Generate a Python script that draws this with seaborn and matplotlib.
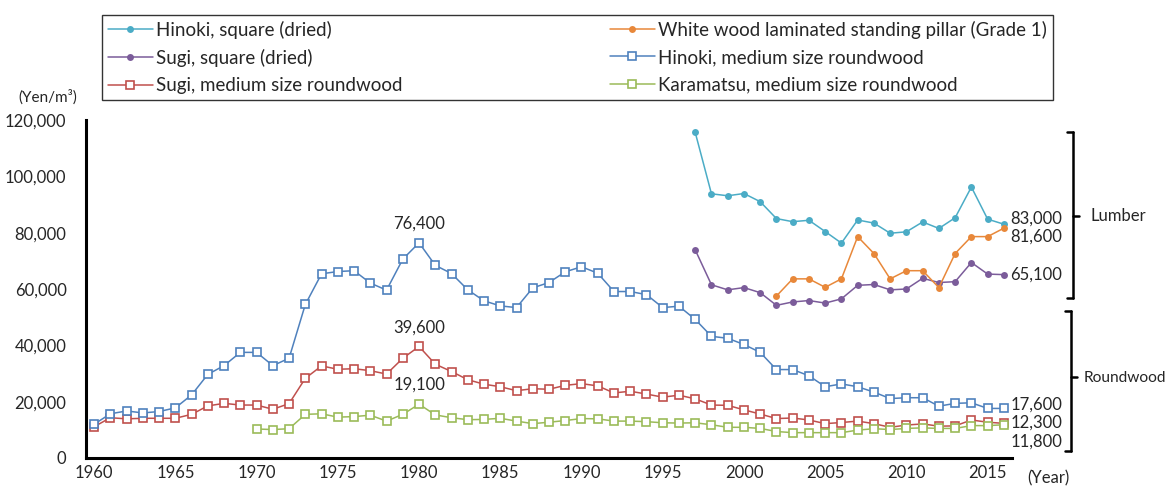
import matplotlib
matplotlib.use("Agg")
import matplotlib.pyplot as plt
from matplotlib.lines import Line2D
from matplotlib.ticker import FuncFormatter, MultipleLocator, FixedLocator
import numpy as np
import seaborn as sns

# ---------------------------------------------------------------------
# Data (yen per cubic metre)
# ---------------------------------------------------------------------
years_all = list(range(1960, 2017))
years_kara = list(range(1970, 2017))
years_sq = list(range(1997, 2017))
years_pillar = list(range(2002, 2017))

hinoki_round = [12000, 15700, 16700, 16000, 16500, 17800, 22400, 29700, 32800, 37500,
                37500, 32800, 35400, 54500, 65400, 66200, 66500, 62100, 59600, 70600,
                76400, 68400, 65500, 59700, 55800, 54000, 53400, 60400, 62300, 66100,
                67900, 65600, 59100, 59100, 58000, 53400, 53900, 49200, 43200, 42500,
                40300, 37500, 31400, 31400, 29200, 25300, 26300, 25300, 23400, 21100,
                21400, 21400, 18400, 19400, 19600, 17600, 17600]
sugi_round = [11100, 14300, 13900, 14100, 14100, 14100, 15500, 18500, 19400, 18800,
              18800, 17300, 19300, 28300, 32700, 31500, 31700, 31000, 29800, 35400,
              39600, 33300, 30700, 27800, 26200, 25300, 23900, 24600, 24400, 25800,
              26400, 25600, 23100, 23700, 22700, 21600, 22300, 21000, 18800, 18700,
              17100, 15600, 14000, 14200, 13500, 12200, 12600, 13100, 12200, 10900,
              11700, 12100, 11300, 11400, 13500, 12700, 12300]
karamatsu_round = [10300, 10100, 10400, 15500, 15700, 14500, 14700, 15200, 13100, 15500,
                   19100, 15300, 14300, 13600, 13700, 14100, 13100, 12200, 12700, 13300,
                   14000, 13900, 13100, 13100, 12900, 12500, 12400, 12500, 11800, 10900,
                   10900, 10500, 9400, 9000, 9000, 9000, 9000, 9900, 10400, 10100,
                   10500, 10700, 10500, 10500, 11500, 11500, 11800]
hinoki_square = [115600, 93800, 93100, 93900, 91000, 85000, 83900, 84400, 80400, 76300,
                 84500, 83400, 79800, 80300, 83800, 81500, 85300, 96200, 84800, 83000]
sugi_square = [73900, 61500, 59700, 60500, 58700, 54200, 55400, 55900, 55000, 56500,
               61300, 61600, 59700, 60000, 63800, 62300, 62600, 69400, 65300, 65100]
pillar = [57500, 63600, 63600, 60600, 63600, 78600, 72600, 63600, 66500, 66500,
          60500, 72600, 78600, 78600, 81600]

peak_labels = ["76,400", "39,600", "19,100"]
end_labels = ["83,000", "81,600", "65,100", "17,600", "12,300", "11,800"]

# ---------------------------------------------------------------------
# Figure
# ---------------------------------------------------------------------
W, H = 1169, 487
FS = 12
sns.set_style("white")
plt.rcParams['font.family'] = ['Lato', 'DejaVu Sans']

fig = plt.figure(figsize=(W / 100, H / 100), dpi=100)
ax = fig.add_axes([86 / W, 1 - 458 / H, (1012 - 86) / W, (458 - 120) / H])


def px(x, y):
    """pixel position in the reference -> figure fraction"""
    return x / W, 1 - y / H


c_teal = '#4BACC6'
c_orange = '#E8883A'
c_purple = '#7B5C9A'
c_blue = '#4F81BD'
c_red = '#C0504D'
c_green = '#9BBB59'

dot = dict(marker='o', markersize=5, markeredgewidth=0, linewidth=1.1)
box = dict(marker='s', markersize=5.5, markerfacecolor='white', markeredgewidth=1.2, linewidth=1.1)

sns.lineplot(x=years_sq, y=hinoki_square, ax=ax, color=c_teal, label='Hinoki, square (dried)',
             markeredgecolor=c_teal, **dot)
sns.lineplot(x=years_sq, y=sugi_square, ax=ax, color=c_purple, label='Sugi, square (dried)',
             markeredgecolor=c_purple, **dot)
sns.lineplot(x=years_all, y=sugi_round, ax=ax, color=c_red, label='Sugi, medium size roundwood',
             markeredgecolor=c_red, **box)
sns.lineplot(x=years_pillar, y=pillar, ax=ax, color=c_orange,
             label='White wood laminated standing pillar (Grade 1)', markeredgecolor=c_orange, **dot)
sns.lineplot(x=years_all, y=hinoki_round, ax=ax, color=c_blue, label='Hinoki, medium size roundwood',
             markeredgecolor=c_blue, **box)
sns.lineplot(x=years_kara, y=karamatsu_round, ax=ax, color=c_green,
             label='Karamatsu, medium size roundwood', markeredgecolor=c_green, **box)

ax.set_xlim(1959.5, 2016.5)
ax.set_ylim(0, 120000)
ax.xaxis.set_major_locator(MultipleLocator(5))
ax.xaxis.set_minor_locator(FixedLocator(np.arange(1960.5, 2016, 1)))
ax.yaxis.set_major_locator(MultipleLocator(20000))
ax.yaxis.set_major_formatter(FuncFormatter(lambda v, p: f"{int(v):,}"))
ax.tick_params(axis='x', which='major', length=0, pad=5, labelsize=FS)
ax.tick_params(axis='x', which='minor', direction='in', length=4, width=1.3, color='black')
ax.tick_params(axis='y', direction='in', length=4, width=1.3, color='black', pad=14, labelsize=FS)
ax.set_xlabel('')
ax.set_ylabel('')
sns.despine(ax=ax)
for s in ['left', 'bottom']:
    ax.spines[s].set_linewidth(2.2)
    ax.spines[s].set_color('black')

# peak value labels at 1980
for lab, series in zip(peak_labels, [hinoki_round, sugi_round, karamatsu_round]):
    ax.annotate(lab, (1980, series[years_all.index(1980) - (len(years_all) - len(series))]),
                xytext=(0, 8), textcoords='offset points', ha='center', va='bottom', fontsize=FS)

# end value labels on the right
end_y = [219, 237, 275, 405, 423, 442]
for lab, yy in zip(end_labels, end_y):
    fig.text(*px(1062, yy), lab, ha='right', va='center', fontsize=FS)


# brackets
def bracket(x, y0, y1, ymid):
    lw = 1.8
    fig.add_artist(Line2D([px(x, 0)[0]] * 2, [px(0, y0)[1], px(0, y1)[1]], color='black', lw=lw))
    for yy in (y0, y1):
        fig.add_artist(Line2D([px(x - 6, 0)[0], px(x, 0)[0]], [px(0, yy)[1]] * 2, color='black', lw=lw))
    fig.add_artist(Line2D([px(x, 0)[0], px(x + 6, 0)[0]], [px(0, ymid)[1]] * 2, color='black', lw=lw))


bracket(1073, 132, 298, 216)
bracket(1071, 311, 451, 377)
fig.text(*px(1090, 216), 'Lumber', ha='left', va='center', fontsize=FS)
fig.text(*px(1084, 378), 'Roundwood', ha='left', va='center', fontsize=11.2)

fig.text(*px(48, 97), '(Yen/m³)', ha='center', va='center', fontsize=11)
fig.text(*px(1048, 478), '(Year)', ha='center', va='center', fontsize=FS)

# legend
handles, labels = ax.get_legend_handles_labels()
ax.legend_.remove()
leg = fig.legend(handles, labels, ncol=2, loc='lower left', mode='expand',
                 bbox_to_anchor=(102 / W, 1 - 100 / H, (1053 - 102) / W, 87 / H),
                 fontsize=13.5, frameon=True, fancybox=False, edgecolor='black',
                 handlelength=2.4, handletextpad=0.2, labelspacing=0.55, borderpad=0.3,
                 borderaxespad=0)
leg.get_frame().set_linewidth(1.0)

fig.savefig('out.png', dpi=100)
